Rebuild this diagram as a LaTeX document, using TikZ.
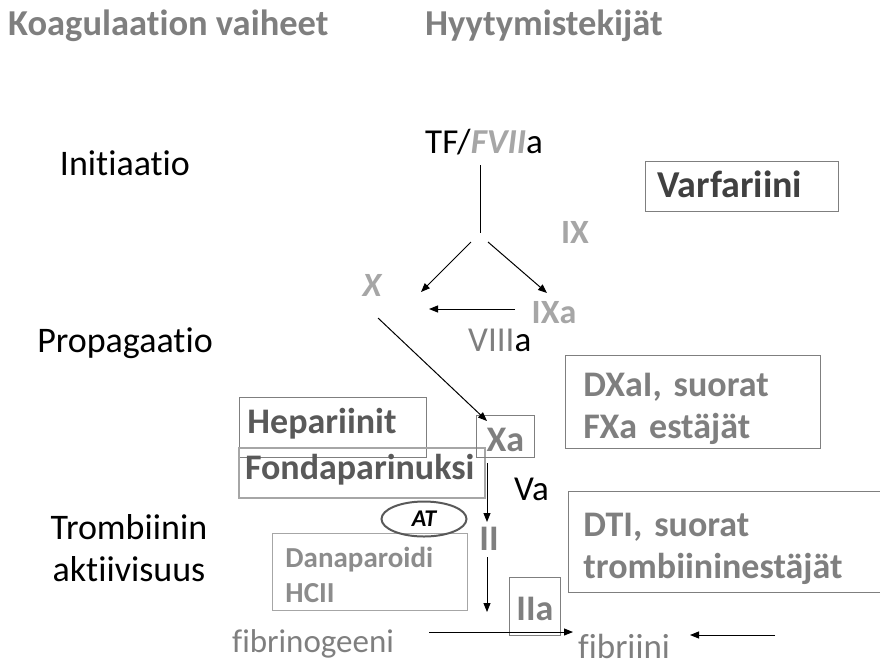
\documentclass[tikz,border=0pt]{standalone}
\usepackage{fontspec}
\setmainfont[Ligatures=NoCommon]{Carlito}
\usetikzlibrary{arrows.meta,shapes.geometric}
\definecolor{hgray}{HTML}{7F7F7F}
\definecolor{dgray}{HTML}{595959}
\definecolor{vgray}{HTML}{404040}
\definecolor{lgray}{HTML}{8C8C8C}
\definecolor{sgray}{HTML}{A6A6A6}
\newcommand{\topstrut}[1]{\rule{0pt}{#1}}
\newcommand{\botstrut}[1]{\rule[-#1]{0pt}{#1}}
\begin{document}
\frenchspacing
\begin{tikzpicture}[x=1pt,y=-1pt,
  hdr/.style={font=\fontsize{36.5}{40}\selectfont\bfseries, text=hgray, inner sep=0},
  phase/.style={font=\fontsize{36}{43}\selectfont, inner sep=0},
  lbl/.style={font=\fontsize{35}{40}\selectfont, inner sep=0},
  fac/.style={font=\fontsize{34}{40}\selectfont\bfseries, text=sgray, inner sep=0},
  boxed/.style={draw=hgray, line width=0.9pt, rectangle, anchor=north west, align=left, inner ysep=0pt},
  btxt/.style={font=\fontsize{36}{42}\selectfont\bfseries},
  arr/.style={-{Triangle[length=9pt,width=7pt]}, line width=1pt},
  ln/.style={line width=1pt}
]
\useasboundingbox (0,0) rectangle (880,665);

% headers
\node[hdr, anchor=base west] (h1) at (8,35) {Koagulaation vaiheet};
\node[hdr, anchor=base west] (h2) at (425,35) {Hyytymistekijät};

% phases
\node[phase] (p1) at (125,163) {Initiaatio};
\node[phase] (p2) at (125,343) {Propagaatio};
\node[phase, anchor=base] (p3a) at (129,539) {Trombiinin};
\node[phase, anchor=base] (p3b) at (129,581) {aktiivisuus};

% TF/FVIIa
\node[lbl, anchor=base west] (tf) at (425,153) {TF/\textcolor{sgray}{\bfseries\itshape FVII}a};

% factors
\node[fac] (ix) at (575,232) {IX};
\node[fac, font=\fontsize{34}{40}\selectfont\bfseries\itshape] (x) at (372,285) {X};
\node[fac] (ixa) at (554,313) {IXa};
\node[lbl, anchor=west] (viiia) at (468,340) {\textcolor{hgray}{VIII}a};

% initiation connectors
\coordinate (tfb) at (480,165);
\coordinate (split) at (480,233);
\draw[ln] (tfb) -- (split);
\coordinate (s1) at (471,242);
\coordinate (s2) at (488,242);
\coordinate (xin) at (421,292);
\coordinate (ixin) at (547,293);
\draw[arr] (s1) -- (xin);
\draw[arr] (s2) -- (ixin);
\coordinate (ixaout) at (515,309);
\coordinate (xin2) at (429,309);
\draw[arr] (ixaout) -- (xin2);

% boxes
\node[boxed, inner xsep=12pt, text width=169pt, text=vgray, font=\fontsize{38}{42}\selectfont\bfseries] (varf) at (645,161) {\topstrut{36pt}Varfariini\botstrut{14pt}};
\node[boxed, inner xsep=18pt, text width=219pt, text=hgray, btxt] (dxa) at (565,355) {\topstrut{41pt}DXaI, suorat\\FXa estäjät\botstrut{10pt}};
\node[boxed, inner xsep=15pt, text width=290pt, text=hgray, btxt] (dti) at (568,491) {\topstrut{45pt}DTI, suorat\\trombiininestäjät\botstrut{14pt}};
\node[boxed, inner xsep=8pt, text width=171pt, text=dgray, btxt] (hep) at (239,397) {\topstrut{36pt}Hepariinit\botstrut{24pt}};
\node[boxed, draw=sgray, line width=2pt, inner xsep=6pt, text width=234pt, text=dgray, btxt] (fonda) at (238,447) {\topstrut{31pt}Fondaparinuksi\botstrut{19pt}};
\node[boxed, inner xsep=0pt, text width=58pt, text=hgray, btxt, align=center] (xa) at (476,415) {\topstrut{36pt}Xa\botstrut{6pt}};
\node[boxed, draw=sgray, inner xsep=13pt, text width=169pt, text=lgray, font=\fontsize{29}{35}\selectfont\bfseries] (dana) at (272,533) {\topstrut{34pt}Danaparoidi\\HCII\botstrut{8pt}};
\node[boxed, inner xsep=0pt, text width=51pt, text=hgray, btxt, align=center] (iia) at (509,577) {\topstrut{43pt}IIa\botstrut{15pt}};

% AT ellipse
\node[ellipse, draw=dgray, line width=2pt, minimum width=85pt, minimum height=35pt, inner sep=0, font=\fontsize{24}{26}\selectfont\bfseries\itshape] (at) at (424,519) {AT};

% X -> Xa
\coordinate (xout) at (378,318);
\coordinate (xain) at (487,421);
\draw[arr] (xout) -- (xain);

% Va, II
\node[lbl, anchor=west] (va) at (514,489) {Va};
\node[fac, text=hgray, font=\fontsize{36}{40}\selectfont\bfseries] (ii) at (489,539) {II};
\coordinate (xaout) at (487,463);
\coordinate (iiin) at (487,522);
\draw[arr] (xaout) -- (iiin);
\coordinate (iiout) at (487,557);
\coordinate (iiain) at (487,612);
\draw[arr] (iiout) -- (iiain);

% fibrinogen -> fibrin
\node[lbl, anchor=west, text=hgray, font=\fontsize{33}{40}\selectfont] (fgen) at (232,644) {fibrinogeeni};
\node[lbl, anchor=west, text=hgray] (fib) at (578,646) {fibriini};
\coordinate (fgout) at (429,632);
\coordinate (fbin) at (573,632);
\draw[arr] (fgout) -- (fbin);
\coordinate (rin) at (775,635);
\coordinate (rout) at (690,635);
\draw[arr] (rin) -- (rout);
\end{tikzpicture}
\end{document}
